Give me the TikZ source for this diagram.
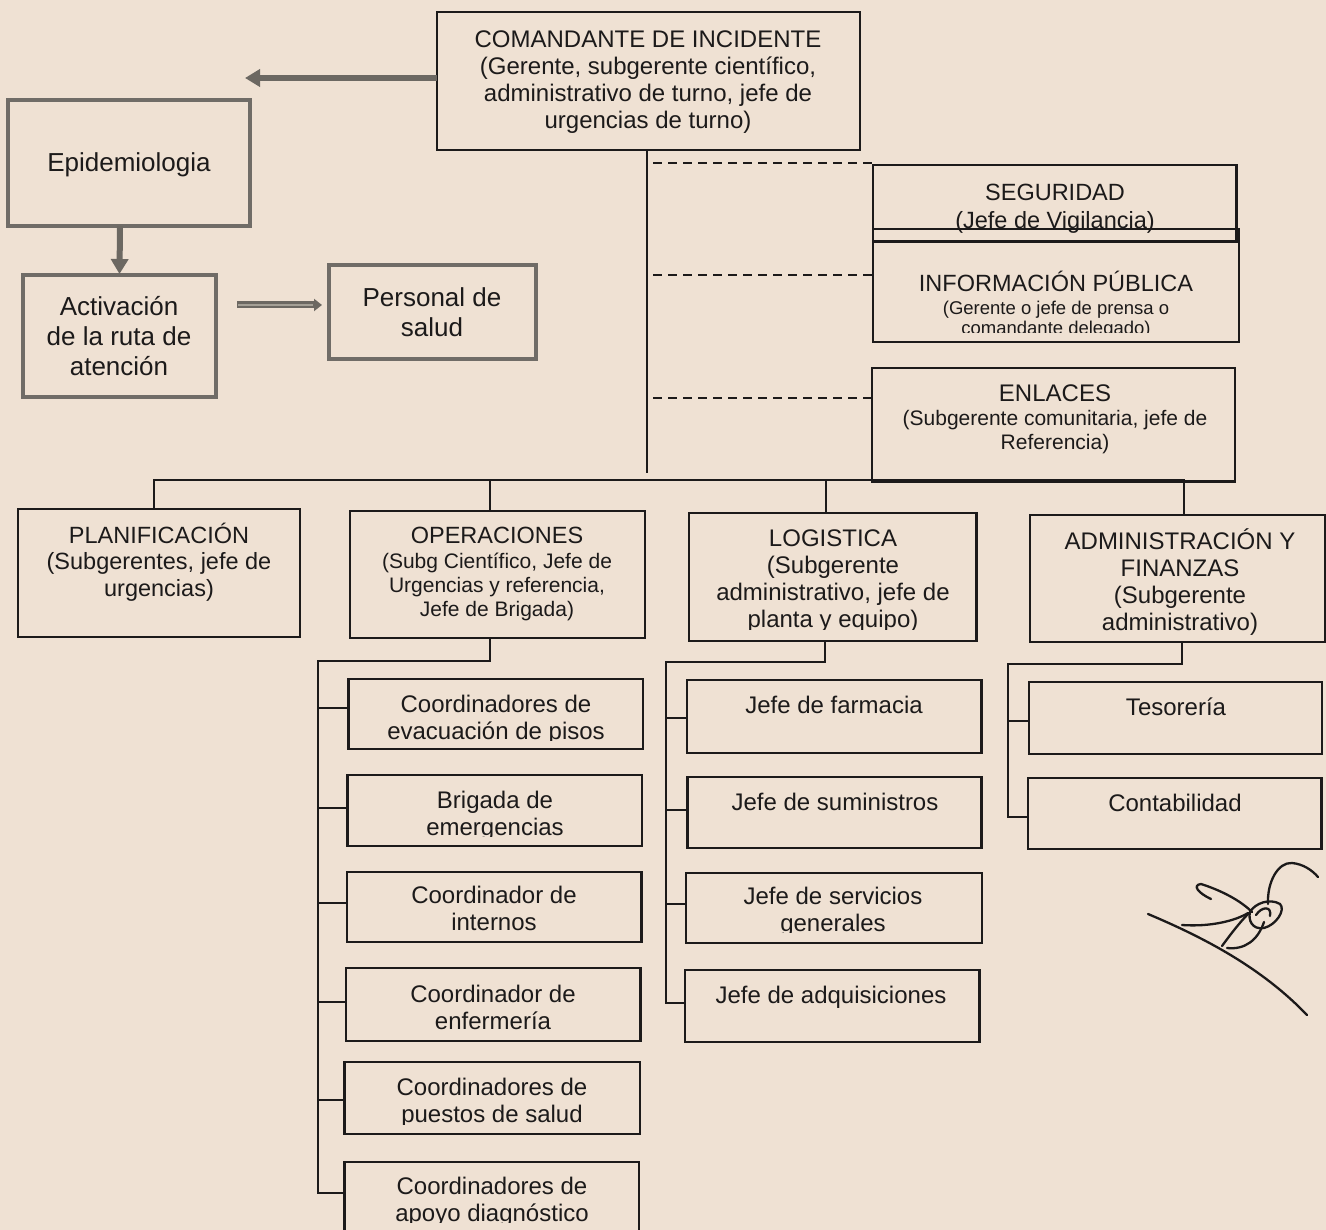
\documentclass[tikz,border=0pt]{standalone}
\usepackage{fontspec}
\setmainfont{Liberation Sans}
\usetikzlibrary{arrows.meta}
\definecolor{paper}{RGB}{239,225,211}
\definecolor{ink}{RGB}{28,26,26}
\definecolor{boxgray}{RGB}{112,108,103}
\definecolor{arrgray}{RGB}{108,104,98}
\definecolor{arrlight}{RGB}{165,160,150}
\newcommand\nxl{\\\strut}
\newcommand\mkbox[6][bx]{\node[#1, minimum width={#4-#2}, minimum height={#5-#3}] (#6) at ({(#2+#4)/2},{(#3+#5)/2}) {};}
\begin{document}
\begin{tikzpicture}[x=1pt,y=-1pt,
  bx/.style={draw=ink, line width=2.4pt, rectangle, inner sep=0pt, outer sep=0pt},
  gbx/.style={draw=boxgray, line width=4.5pt, rectangle, inner sep=0pt, outer sep=0pt},
  txt/.style={text=ink, align=center, inner sep=0pt, font=\fontsize{24}{27}\selectfont},
  big/.style={font=\fontsize{26}{30}\selectfont},
  mid/.style={font=\fontsize{21}{24}\selectfont},
  small/.style={font=\fontsize{18.5}{20}\selectfont},
  conn/.style={draw=ink, line width=2pt},
  dsh/.style={draw=ink, line width=2pt, dash pattern=on 9pt off 6pt},
  garrow/.style={draw=arrgray, line width=6pt, -{Triangle[width=17pt,length=15pt]}},
  sig/.style={draw=ink, line width=2.3pt, line cap=round, line join=round}]
\fill[paper] (0,0) rectangle (1326,1230);
\useasboundingbox (0,0) rectangle (1326,1230);

% ---------- boxes ----------
\mkbox{437}{12}{860}{150}{cmd}
\mkbox[gbx]{8}{100}{250}{226}{epi}
\mkbox[gbx]{23}{275}{216}{397}{act}
\mkbox[gbx]{329}{265}{536}{359}{pers}
\mkbox{873}{165}{1236.5}{241.5}{seg}
\mkbox{873}{229}{1239}{342}{info}
\mkbox{872}{368}{1235}{481.7}{enl}
\mkbox{18}{509}{300}{637}{plan}
\mkbox{350}{511}{645}{638}{oper}
\mkbox{689}{513}{976.5}{641}{log}
\mkbox{1030}{515}{1325}{642}{admin}
\mkbox{348.5}{679}{643}{749}{evac}
\mkbox{347.6}{775}{642}{846}{brig}
\mkbox{347}{872}{641.5}{942}{intn}
\mkbox{346}{968}{640.6}{1041}{enf}
\mkbox{344.6}{1062}{640}{1134}{pues}
\mkbox{344.6}{1162}{639}{1250}{apoy}
\mkbox{687}{680}{981.6}{753}{farm}
\mkbox{687.6}{777}{981.6}{848}{sumi}
\mkbox{686}{873}{982}{943}{serv}
\mkbox{685}{970}{979.5}{1042}{adq}
\mkbox{1028.7}{682}{1321.8}{754}{tes}
\mkbox{1028}{778}{1321.4}{849}{cont}

% ---------- texts ----------
\node[txt] (cmd-t) at (648,82.5) {\strut COMANDANTE DE INCIDENTE\nxl (Gerente, subgerente científico,\nxl administrativo de turno, jefe de\nxl urgencias de turno)};
\node[txt,big] (epi-t) at (129,166) {\strut Epidemiologia};
\node[txt,big] (act-t) at (119,340) {\strut Activación\nxl de la ruta de\nxl atención};
\node[txt,big] (pers-t) at (432,316) {\strut Personal de\nxl salud};
\node[txt,font=\fontsize{23.5}{28.3}\selectfont] (seg-t) at (1055,209) {\strut SEGURIDAD\nxl (Jefe de Vigilancia)};
\node[txt,font=\fontsize{23.5}{27}\selectfont] (info-t) at (1056,285) {\strut INFORMACIÓN PÚBLICA};
\begin{scope}
  \clip (info.north west) rectangle (info.east |- 0,332.7);
  \node[txt,small] (info-s) at (1056,321) {\strut (Gerente o jefe de prensa o\nxl comandante delegado)};
\end{scope}
\node[txt] (enl-t) at (1055,396.3) {\strut ENLACES};
\node[txt,font=\fontsize{21}{23.4}\selectfont] (enl-s) at (1055,433) {\strut (Subgerente comunitaria, jefe de\nxl Referencia)};
\node[txt,font=\fontsize{23.5}{26.5}\selectfont] (plan-t) at (159,563.5) {\strut PLANIFICACIÓN\nxl (Subgerentes, jefe de\nxl urgencias)};
\node[txt,font=\fontsize{23.5}{27}\selectfont] (oper-t) at (497,538) {\strut OPERACIONES};
\node[txt,mid] (oper-s) at (497,588) {\strut (Subg Científico, Jefe de\nxl Urgencias y referencia,\nxl Jefe de Brigada)};
\begin{scope}
  \clip (log.north west) rectangle (log.east |- 0,629);
  \node[txt] (log-t) at (833,581.5) {\strut LOGISTICA\nxl (Subgerente\nxl administrativo, jefe de\nxl planta y equipo)};
\end{scope}
\node[txt] (admin-t) at (1180,583.5) {\strut ADMINISTRACIÓN Y\nxl FINANZAS\nxl (Subgerente\nxl administrativo)};
\begin{scope}
  \clip (evac.north west) rectangle (evac.east |- 0,740);
  \node[txt] (evac-t) at (496,720.5) {\strut Coordinadores de\nxl evacuación de pisos};
\end{scope}
\begin{scope}
  \clip (brig.north west) rectangle (brig.east |- 0,836);
  \node[txt] (brig-t) at (495,816.5) {\strut Brigada de\nxl emergencias};
\end{scope}
\node[txt] (intn-t) at (494,912) {\strut Coordinador de\nxl internos};
\node[txt] (enf-t) at (493,1010.5) {\strut Coordinador de\nxl enfermería};
\begin{scope}
  \clip (pues.north west) rectangle (pues.east |- 0,1124);
  \node[txt] (pues-t) at (492,1103.5) {\strut Coordinadores de\nxl puestos de salud};
\end{scope}
\begin{scope}
  \clip (apoy.north west) rectangle (apoy.east |- 0,1222);
  \node[txt] (apoy-t) at (492,1203) {\strut Coordinadores de\nxl apoyo diagnóstico};
\end{scope}
\node[txt] (farm-t) at (834,708) {\strut Jefe de farmacia};
\node[txt] (sumi-t) at (835,804.7) {\strut Jefe de suministros};
\begin{scope}
  \clip (serv.north west) rectangle (serv.east |- 0,932);
  \node[txt] (serv-t) at (833,913) {\strut Jefe de servicios\nxl generales};
\end{scope}
\node[txt] (adq-t) at (831,998) {\strut Jefe de adquisiciones};
\node[txt] (tes-t) at (1176,709.7) {\strut Tesorería};
\node[txt] (cont-t) at (1175,806) {\strut Contabilidad};

% ---------- gray arrows ----------
\coordinate (lefttip) at (245,78);
\draw[garrow] ([yshift=3pt]cmd.west) -- (lefttip);
\draw[garrow, shorten >=1pt] ([xshift=-9pt]epi.south) -- (act.north);
\draw[draw=arrgray, line width=7pt, -{Triangle[width=12pt,length=8pt]}, shorten <=21pt, shorten >=7pt]
  ([yshift=31pt]act.east) -- ([yshift=7pt]pers.west);
\draw[draw=arrlight, line width=2.5pt, shorten <=22pt, shorten >=16pt]
  ([yshift=31pt]act.east) -- ([yshift=7pt]pers.west);

% ---------- trunk and staff links ----------
\coordinate (trunkend) at (647,473);
\draw[conn] ([xshift=-1.5pt]cmd.south) -- (cmd.south -| trunkend) -- (trunkend);
\coordinate (d1) at (653,163.3);
\coordinate (d2) at (653,275);
\coordinate (d3) at (653,398);
\draw[dsh] (d1) -- (seg.west |- d1);
\draw[dsh] (d2) -- (info.west |- d2);
\draw[dsh] (d3) -- (enl.west |- d3);

% ---------- main bus ----------
\coordinate (busL) at (154,480.5);
\coordinate (busR) at (1184,480.5);
\draw[conn] (plan.north -| busL) -- (busL) -- (busR) -- (admin.north -| busR);
\draw[conn] ([xshift=-7.5pt]oper.north) |- (busL);
\draw[conn] ([xshift=-6.75pt]log.north) |- (busL);

% ---------- operaciones subtree ----------
\coordinate (opsbus) at (318,661);
\draw[conn] ([xshift=-7.5pt]oper.south) |- (opsbus) |- ([yshift=13pt]apoy.west);
\draw[conn] ([yshift=6pt]evac.west) -| (opsbus);
\draw[conn] ([yshift=2.8pt]brig.west) -| (opsbus);
\draw[conn] ([yshift=4pt]intn.west) -| (opsbus);
\draw[conn] ([yshift=2.5pt]enf.west) -| (opsbus);
\draw[conn] ([yshift=-2pt]pues.west) -| (opsbus);

% ---------- logistica subtree ----------
\coordinate (logbus) at (666,662);
\draw[conn] ([xshift=-7.75pt]log.south) |- (logbus) |- ([yshift=3pt]adq.west);
\draw[conn] ([yshift=-1.5pt]farm.west) -| (logbus);
\draw[conn] ([yshift=2.5pt]sumi.west) -| (logbus);
\draw[conn] ([yshift=4pt]serv.west) -| (logbus);

% ---------- administracion subtree ----------
\coordinate (admbus) at (1007.5,664);
\draw[conn] ([xshift=4.5pt]admin.south) |- (admbus) |- ([yshift=-3.2pt]cont.west);
\draw[conn] ([yshift=-3pt]tes.west) -| (admbus);

% ---------- signature ----------
\draw[sig] (1148,914) .. controls (1205,938) and (1262,968) .. (1307,1015);
\draw[sig] (1211,899) .. controls (1198,893) and (1192,885) .. (1201,884) .. controls (1220,890) and (1240,900) .. (1252,912);
\draw[sig] (1182,925) .. controls (1210,927) and (1235,921) .. (1248,913);
\draw[sig] (1222,946) .. controls (1230,935) and (1240,922) .. (1249,913);
\draw[sig] (1227,948) .. controls (1245,950) and (1258,940) .. (1264,922);
\draw[sig] (1250,912) .. controls (1255,903) and (1270,898) .. (1280,904) .. controls (1286,910) and (1276,925) .. (1264,928) .. controls (1252,930) and (1248,920) .. (1250,912);
\draw[sig] (1256,915) .. controls (1262,906) and (1272,906) .. (1270,916);
\draw[sig] (1268,904) .. controls (1267,882) and (1278,862) .. (1292,863) .. controls (1303,864) and (1312,870) .. (1318,877);
\end{tikzpicture}
\end{document}
